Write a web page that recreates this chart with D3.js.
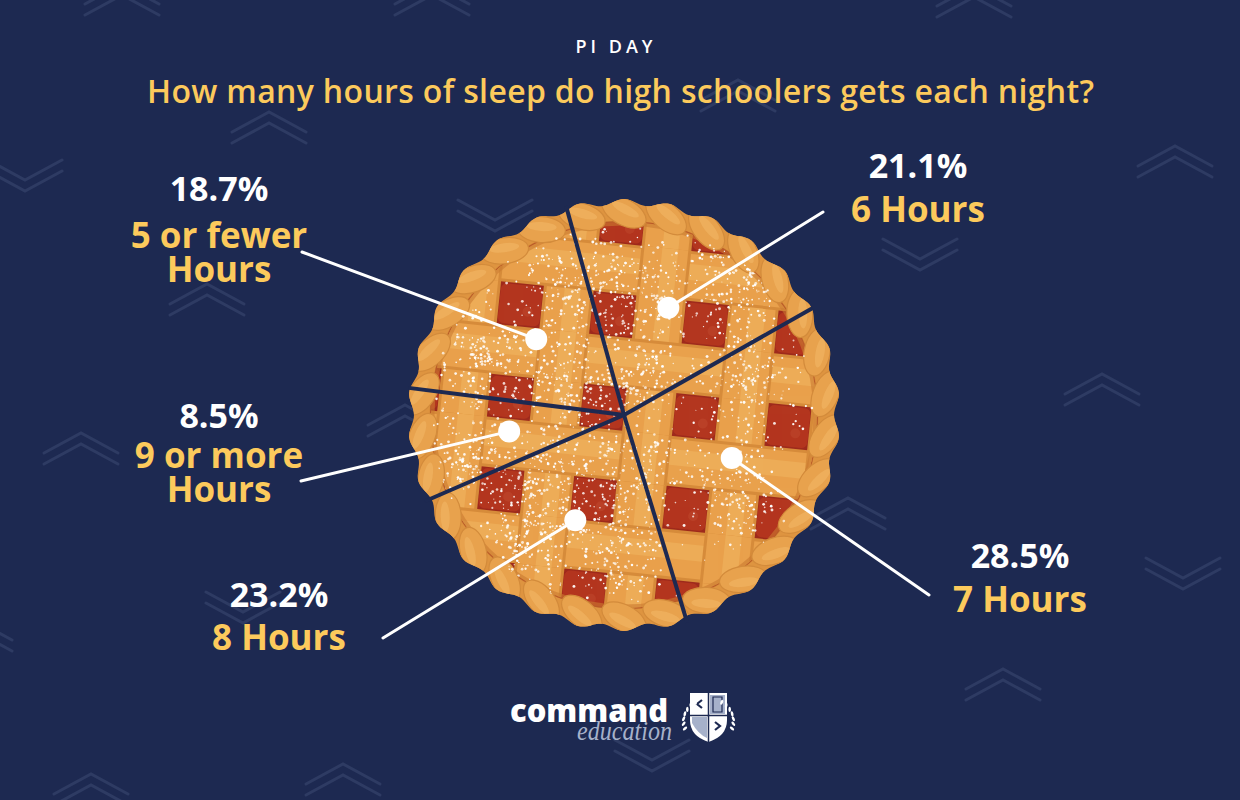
<!DOCTYPE html>
<meta charset="utf-8">
<script src="https://d3js.org/d3.v7.min.js"></script>
<style>
  body { margin: 0; background: #1d2951; }
  svg { display: block; }
</style>
<div id="chart"></div>
<script>

// ---- data ----
var categories = ["6 Hours", "7 Hours", "8 Hours", "9 or more Hours", "5 or fewer Hours"];
var shares = [21.1, 28.5, 23.2, 8.5, 18.7];
var pctLabels = ["21.1%", "28.5%", "23.2%", "8.5%", "18.7%"];
var nameLines = [["6 Hours"], ["7 Hours"], ["8 Hours"], ["9 or more", "Hours"], ["5 or fewer", "Hours"]];

// ---- layout ----
var width = 1240, height = 800;
var cx = 624, cy = 415, R = 216;
var labelPos = [
  {x: 918,  pctY: 178, nameY: 222, ex: 823, ey: 212},
  {x: 1020, pctY: 568, nameY: 612, ex: 929, ey: 595},
  {x: 279,  pctY: 607, nameY: 650, ex: 383, ey: 638},
  {x: 219,  pctY: 428, nameY: 468, ex: 301, ey: 481},
  {x: 219,  pctY: 201, nameY: 248, ex: 302, ey: 252}
];
var lineGap = 34;
var chevrons = [
  [122, -16, "up"], [432, -16, "up"], [974, -14, "up"], [269, 112, "up"], [207, 284, "up"],
  [738, 80, "up"], [1175, 146, "up"], [1102, 374, "up"], [848, 498, "up"], [405, 405, "up"],
  [81, 433, "up"], [1003, 669, "up"], [91, 774, "up"], [343, 764, "up"], [-25, 620, "up"],
  [25, 160, "down"], [495, 200, "down"], [920, 239, "down"], [1183, 558, "down"],
  [243, 592, "down"], [652, 740, "down"]
];

var navy = "#1d2951", yellow = "#fcca5c";

var svg = d3.select("#chart")
  .append("svg")
    .attr("width", width)
    .attr("height", height);

svg.append("rect")
  .attr("width", width).attr("height", height)
  .attr("fill", navy);

// background chevrons
svg.append("g")
  .selectAll("path")
  .data(chevrons)
  .enter()
  .append("path")
    .attr("d", function(d) {
      var x = d[0], y = d[1];
      if (d[2] == "up") {
        return "M" + (x - 37) + "," + (y + 20) + "L" + x + "," + y + "L" + (x + 37) + "," + (y + 20) +
               "M" + (x - 37) + "," + (y + 31) + "L" + x + "," + (y + 11) + "L" + (x + 37) + "," + (y + 31);
      }
      return "M" + (x - 37) + "," + y + "L" + x + "," + (y + 20) + "L" + (x + 37) + "," + y +
             "M" + (x - 37) + "," + (y + 11) + "L" + x + "," + (y + 31) + "L" + (x + 37) + "," + (y + 11);
    })
    .attr("fill", "none")
    .attr("stroke", "#2e3b63")
    .attr("stroke-width", 3)
    .attr("stroke-linecap", "round");

// ---- the pie ----
var pie = d3.pie()
  .sort(null)
  .value(function(d) { return d; })
  .startAngle(-15.5 * Math.PI / 180)
  .endAngle((360 - 15.5) * Math.PI / 180);
var arcs = pie(shares);

var defs = svg.append("defs");
defs.append("clipPath").attr("id", "innerClip")
  .append("circle").attr("r", 193);

var pieG = svg.append("g").attr("transform", "translate(" + cx + "," + cy + ")");

// scalloped rim base
var nLumps = 30;
var rimPts = d3.range(0, 2 * Math.PI, Math.PI / 120);
var rimPath = d3.lineRadial()
  .angle(function(a) { return a; })
  .radius(function(a) { return R - 3 + 3 * Math.cos(nLumps * a); })
  .curve(d3.curveCardinalClosed)(rimPts);
defs.append("clipPath").attr("id", "outerClip")
  .append("path").attr("d", rimPath);
pieG.append("path")
  .attr("d", rimPath)
  .attr("fill", "#de9440");

// filling
pieG.append("circle").attr("r", 194).attr("fill", "#9f2b1d");

var lattice = pieG.append("g").attr("clip-path", "url(#innerClip)")
  .append("g").attr("transform", "rotate(6)");

var pitch = 93, strip = 47, u0 = -21.7, v0 = -5.7;
var idx = d3.range(-3, 4);

// red cells between strips
idx.forEach(function(k) {
  idx.forEach(function(m) {
    var u = u0 + pitch * k, v = v0 + pitch * m;
    lattice.append("rect")
      .attr("x", u - 21).attr("y", v - 20)
      .attr("width", 42).attr("height", 40)
      .attr("rx", 6)
      .attr("fill", "#b3361f");
    lattice.append("circle")
      .attr("cx", u + 8).attr("cy", v + 6).attr("r", 5)
      .attr("fill", "#c24a30").attr("opacity", 0.5);
  });
});

function stripV(g, u, y1, y2) {
  g.append("rect").attr("x", u - strip / 2).attr("y", y1)
    .attr("width", strip).attr("height", y2 - y1).attr("fill", "#e9a14c");
  g.append("line").attr("x1", u + 4).attr("x2", u + 4).attr("y1", y1).attr("y2", y2)
    .attr("stroke", "#f0b560").attr("stroke-width", 16).attr("opacity", 0.6);
  [-1, 1].forEach(function(s) {
    g.append("line").attr("x1", u + s * strip / 2).attr("x2", u + s * strip / 2)
      .attr("y1", y1).attr("y2", y2)
      .attr("stroke", "#d68b3a").attr("stroke-width", 3);
  });
}
function stripH(g, v, x1, x2) {
  g.append("rect").attr("x", x1).attr("y", v - strip / 2)
    .attr("width", x2 - x1).attr("height", strip).attr("fill", "#e9a14c");
  g.append("line").attr("y1", v - 4).attr("y2", v - 4).attr("x1", x1).attr("x2", x2)
    .attr("stroke", "#f0b560").attr("stroke-width", 16).attr("opacity", 0.6);
  [-1, 1].forEach(function(s) {
    g.append("line").attr("y1", v + s * strip / 2).attr("y2", v + s * strip / 2)
      .attr("x1", x1).attr("x2", x2)
      .attr("stroke", "#d68b3a").attr("stroke-width", 3);
  });
}

var uStrips = idx.map(function(k) { return u0 + pitch / 2 + pitch * k; });
var vStrips = idx.map(function(m) { return v0 + pitch / 2 + pitch * m; });
uStrips.forEach(function(u) { stripV(lattice, u, -260, 260); });
vStrips.forEach(function(v) { stripH(lattice, v, -260, 260); });
// weave: vertical strips on top at every other crossing
uStrips.forEach(function(u, k) {
  vStrips.forEach(function(v, m) {
    if ((k + m) % 2 == 0) stripV(lattice, u, v - strip / 2 - 1.5, v + strip / 2 + 1.5);
  });
});

pieG.append("circle").attr("r", 192).attr("fill", "none")
  .attr("stroke", "#c97a30").attr("stroke-width", 5).attr("opacity", 0.6);

// braided rim lumps
var lumpAngles = d3.range(nLumps).map(function(i) { return i * 2 * Math.PI / nLumps; });
var lumps = pieG.append("g").attr("clip-path", "url(#outerClip)");
lumpAngles.forEach(function(a) {
  var p = d3.pointRadial(a, R - 13);
  var deg = a * 180 / Math.PI;
  var g = lumps.append("g").attr("transform", "translate(" + p[0] + "," + p[1] + ") rotate(" + (deg + 28) + ")");
  g.append("ellipse").attr("rx", 24).attr("ry", 13)
    .attr("fill", "#e8a24d").attr("stroke", "#d38b3b").attr("stroke-width", 1.2);
  g.append("ellipse").attr("cy", -3).attr("rx", 15).attr("ry", 4.5)
    .attr("fill", "#f2b868").attr("opacity", 0.55);
});

// powdered sugar (decoration, seeded)
function mulberry32(a) {
  return function() {
    a |= 0; a = a + 0x6D2B79F5 | 0;
    var t = Math.imul(a ^ a >>> 15, 1 | a);
    t = t + Math.imul(t ^ t >>> 7, 61 | t) ^ t;
    return ((t ^ t >>> 14) >>> 0) / 4294967296;
  };
}
var rand = mulberry32(314);
var sugarSpots = [[567, 290], [483, 357], [560, 380], [640, 290], [733, 290], [750, 380],
                  [633, 377], [473, 457], [550, 473], [633, 473], [733, 490], [617, 557], [533, 540]];
var sugar = pieG.append("g").attr("clip-path", "url(#innerClip)");
sugarSpots.forEach(function(s) {
  for (var i = 0; i < 200; i++) {
    var r = 26 * Math.sqrt(-2 * Math.log(rand() + 1e-9));
    var t = rand() * 2 * Math.PI;
    sugar.append("circle")
      .attr("cx", s[0] - cx + r * Math.cos(t))
      .attr("cy", s[1] - cy + r * Math.sin(t) * 1.1)
      .attr("r", 0.5 + rand() * 1.0)
      .attr("fill", "#fff")
      .attr("opacity", 0.7 + rand() * 0.3);
  }
});

// slice cuts
pieG.append("g")
  .selectAll("line")
  .data(arcs)
  .enter()
  .append("line")
    .attr("x1", 0).attr("y1", 0)
    .attr("x2", function(d) { return d3.pointRadial(d.startAngle, R + 1)[0]; })
    .attr("y2", function(d) { return d3.pointRadial(d.startAngle, R + 1)[1]; })
    .attr("stroke", navy)
    .attr("stroke-width", 4);

// markers + leader lines
var dotArc = d3.arc().innerRadius(116).outerRadius(116);
arcs.forEach(function(d, i) {
  var c = dotArc.centroid(d);
  var lp = labelPos[i];
  svg.append("line")
    .attr("x1", cx + c[0]).attr("y1", cy + c[1])
    .attr("x2", lp.ex).attr("y2", lp.ey)
    .attr("stroke", "#fff")
    .attr("stroke-width", 3)
    .attr("stroke-linecap", "round");
  svg.append("circle")
    .attr("cx", cx + c[0]).attr("cy", cy + c[1])
    .attr("r", 11)
    .attr("fill", "#fff");
});

// labels
var labels = svg.append("g")
  .attr("font-family", "'Open Sans', sans-serif")
  .attr("font-weight", 700)
  .attr("text-anchor", "middle");
arcs.forEach(function(d, i) {
  var lp = labelPos[i];
  labels.append("text")
    .attr("x", lp.x).attr("y", lp.pctY)
    .attr("fill", "#fff")
    .style("font-size", "34px")
    .text(pctLabels[i]);
  var t = labels.append("text")
    .attr("x", lp.x).attr("y", lp.nameY)
    .attr("fill", yellow)
    .style("font-size", "35px");
  nameLines[i].forEach(function(line, j) {
    t.append("tspan")
      .attr("x", lp.x)
      .attr("dy", j == 0 ? 0 : lineGap)
      .text(line);
  });
});

// titles
svg.append("text")
  .attr("x", 616).attr("y", 53)
  .attr("text-anchor", "middle")
  .attr("fill", "#fff")
  .style("font-family", "'Open Sans', sans-serif")
  .style("font-weight", 600)
  .style("font-size", "18px")
  .style("letter-spacing", "4px")
  .text("PI DAY");

svg.append("text")
  .attr("x", 147).attr("y", 103)
  .attr("fill", yellow)
  .attr("textLength", 947)
  .attr("lengthAdjust", "spacing")
  .style("font-family", "'Open Sans', sans-serif")
  .style("font-weight", 600)
  .style("font-size", "32px")
  .text("How many hours of sleep do high schoolers gets each night?");

// logo
var logo = svg.append("g");
var word = logo.append("text")
  .attr("x", 510).attr("y", 722);
word.append("tspan")
  .attr("fill", "#fff")
  .attr("textLength", 158)
  .attr("lengthAdjust", "spacingAndGlyphs")
  .style("font-family", "'Open Sans', sans-serif")
  .style("font-weight", 800)
  .style("font-size", "32px")
  .text("command");
word.append("tspan")
  .attr("x", 577).attr("y", 740)
  .attr("fill", "#a6b1ca")
  .attr("textLength", 95)
  .attr("lengthAdjust", "spacingAndGlyphs")
  .style("font-family", "'Liberation Serif', serif")
  .style("font-style", "italic")
  .style("font-size", "27px")
  .text("education");

var shield = logo.append("g").attr("transform", "translate(690,693)");
shield.append("path")
  .attr("d", "M0,0H37V27Q37,43 18.5,49Q0,43 0,27Z")
  .attr("fill", "#fff");
shield.append("path")
  .attr("d", "M20,2H35V21H20Z")
  .attr("fill", "#a6b1ca");
shield.append("path")
  .attr("d", "M23,4H32V19H23Z")
  .attr("fill", "none").attr("stroke", navy).attr("stroke-width", 1.2);
shield.append("path")
  .attr("d", "M2,24H17V45Q8,41 2,30Z")
  .attr("fill", "#a6b1ca");
shield.append("path")
  .attr("d", "M18.5,0V49M0,22.5H37")
  .attr("stroke", navy).attr("stroke-width", 1.5);
shield.append("path")
  .attr("d", "M12,7L7,11L12,15")
  .attr("fill", "none").attr("stroke", navy).attr("stroke-width", 2.2);
shield.append("path")
  .attr("d", "M25,29L30,33L25,37")
  .attr("fill", "none").attr("stroke", navy).attr("stroke-width", 2.2);
// laurel
d3.range(7).forEach(function(i) {
  [-1, 1].forEach(function(s) {
    var a = (200 - i * 13) * Math.PI / 180;
    var x = 18.5 + s * 25 * Math.cos(a) * -1;
    var y = 28 + 22 * Math.sin(a) * -1;
    shield.append("ellipse")
      .attr("cx", x).attr("cy", y)
      .attr("rx", 2.6).attr("ry", 1.3)
      .attr("transform", "rotate(" + (s * (40 + i * 12)) + "," + x + "," + y + ")")
      .attr("fill", "#fff");
  });
});

</script>
